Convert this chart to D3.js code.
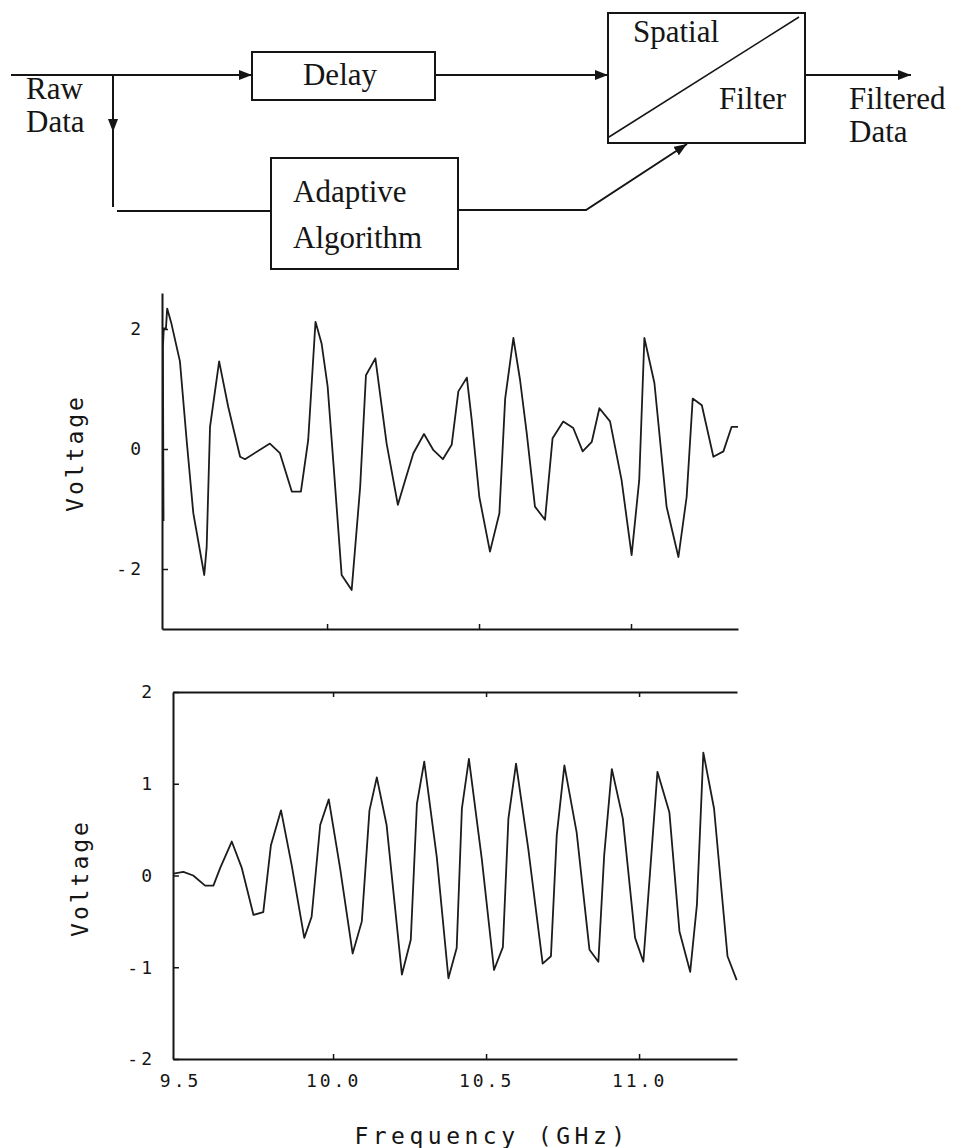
<!DOCTYPE html>
<html>
<head>
<meta charset="utf-8">
<script src="https://cdn.jsdelivr.net/npm/d3@7"></script>
<style>
body { margin: 0; background: #fff; }
</style>
</head>
<body>
<div id="chart"></div>
<script>
// upper trace: raw voltage vs frequency (GHz)
var rawFreq = [9.462, 9.460, 9.463, 9.470, 9.474, 9.488, 9.516, 9.538, 9.560, 9.596,
    9.604, 9.615, 9.645, 9.675, 9.714, 9.730, 9.812, 9.845, 9.884, 9.914,
    9.938, 9.962, 9.982, 10.002, 10.021, 10.048, 10.081, 10.109, 10.128, 10.159,
    10.196, 10.233, 10.257, 10.284, 10.319, 10.350, 10.381, 10.410, 10.432, 10.460,
    10.476, 10.501, 10.536, 10.567, 10.586, 10.613, 10.635, 10.657, 10.684, 10.717,
    10.742, 10.777, 10.810, 10.841, 10.871, 10.896, 10.931, 10.969, 11.002, 11.027,
    11.044, 11.077, 11.117, 11.156, 11.183, 11.203, 11.233, 11.271, 11.304, 11.331, 11.352];
var rawVolt = [-1.2, 1.70, 2.01, 2.01, 2.34, 2.09, 1.46, 0.15, -1.07, -2.10,
    -1.63, 0.37, 1.46, 0.70, -0.13, -0.17, 0.09, -0.07, -0.71, -0.71,
    0.15, 2.12, 1.76, 1.04, -0.24, -2.10, -2.35, -0.63, 1.23, 1.51,
    0.09, -0.93, -0.52, -0.07, 0.25, -0.02, -0.17, 0.07, 0.96, 1.19,
    0.48, -0.80, -1.71, -1.07, 0.84, 1.85, 1.15, 0.26, -0.96, -1.18,
    0.18, 0.46, 0.35, -0.04, 0.12, 0.68, 0.46, -0.52, -1.77, -0.52,
    1.85, 1.10, -0.96, -1.80, -0.80, 0.84, 0.73, -0.13, -0.04, 0.37, 0.37];

// lower trace: filtered voltage
var filtFreq = [9.478, 9.511, 9.543, 9.582, 9.609, 9.631, 9.669, 9.702, 9.740, 9.772,
    9.797, 9.830, 9.865, 9.906, 9.930, 9.958, 9.986, 10.023, 10.064, 10.094,
    10.119, 10.143, 10.175, 10.225, 10.254, 10.274, 10.298, 10.339, 10.377, 10.404,
    10.421, 10.444, 10.486, 10.526, 10.555, 10.573, 10.598, 10.638, 10.685, 10.712,
    10.731, 10.756, 10.796, 10.838, 10.867, 10.886, 10.911, 10.947, 10.987, 11.014,
    11.036, 11.060, 11.099, 11.132, 11.167, 11.189, 11.210, 11.245, 11.289, 11.319];
var filtVolt = [0.02, 0.04, 0.00, -0.11, -0.11, 0.08, 0.37, 0.08, -0.43, -0.40,
    0.33, 0.71, 0.11, -0.68, -0.45, 0.55, 0.83, 0.08, -0.85, -0.50,
    0.71, 1.07, 0.55, -1.08, -0.70, 0.78, 1.24, 0.20, -1.12, -0.79,
    0.73, 1.27, 0.18, -1.03, -0.78, 0.62, 1.22, 0.29, -0.96, -0.88,
    0.44, 1.20, 0.47, -0.81, -0.94, 0.22, 1.16, 0.62, -0.68, -0.94,
    0.04, 1.13, 0.69, -0.61, -1.05, -0.32, 1.34, 0.73, -0.88, -1.14];

var topYTicks = [-2, 0, 2];
var botYTicks = [-2, -1, 0, 1, 2];
var innerXTicks = [10.0, 10.5, 11.0];
var xTicks = [9.5, 10.0, 10.5, 11.0];
var xTickLabels = ["9.5", "10.0", "10.5", "11.0"];

var ink = "#151515";
var serif = "'Liberation Serif', 'Times New Roman', serif";
var mono = "'DejaVu Sans Mono', 'Liberation Mono', monospace";

var svg = d3.select("#chart")
    .append("svg")
    .attr("width", 954)
    .attr("height", 1148)
    .style("background", "#fff");

svg.append("defs")
    .append("marker")
    .attr("id", "arr")
    .attr("viewBox", "0 0 13 10")
    .attr("refX", 13)
    .attr("refY", 5)
    .attr("markerWidth", 13)
    .attr("markerHeight", 10)
    .attr("markerUnits", "userSpaceOnUse")
    .attr("orient", "auto")
    .append("path")
    .attr("d", "M0,0L13,5L0,10z")
    .attr("fill", ink);

// ---- block diagram ----
var dg = svg.append("g")
    .attr("stroke", ink)
    .attr("stroke-width", 2)
    .attr("fill", "none");

function seg(pts, arrow) {
    var p = dg.append("path").attr("d", d3.line()(pts));
    if (arrow) p.attr("marker-end", "url(#arr)");
}

seg([[11, 75], [252, 75]], true);
seg([[113, 75], [113, 132]], true);
seg([[113, 130], [113, 207]], false);
seg([[117, 211], [271, 211]], false);
seg([[435, 75], [608, 75]], true);
seg([[805, 75], [911, 75]], true);
seg([[458, 210], [586, 210], [687, 144]], true);

dg.append("rect").attr("x", 252).attr("y", 52).attr("width", 183).attr("height", 48);
dg.append("rect").attr("x", 271).attr("y", 158).attr("width", 187).attr("height", 111);
dg.append("rect").attr("x", 608).attr("y", 13).attr("width", 197).attr("height", 130);
dg.append("line").attr("x1", 609).attr("y1", 137).attr("x2", 799).attr("y2", 17)
    .attr("stroke-width", 1.5);

var labels = [
    ["Raw", 26, 99, "start"], ["Data", 26, 132, "start"],
    ["Delay", 340, 85, "middle"],
    ["Adaptive", 293, 202, "start"], ["Algorithm", 293, 248, "start"],
    ["Spatial", 633, 42, "start"], ["Filter", 719, 109, "start"],
    ["Filtered", 849, 109, "start"], ["Data", 849, 142, "start"]
];
svg.append("g").selectAll("text")
    .data(labels)
    .enter()
    .append("text")
    .attr("x", function(d) { return d[1]; })
    .attr("y", function(d) { return d[2]; })
    .attr("text-anchor", function(d) { return d[3]; })
    .attr("font-family", serif)
    .attr("font-size", 31)
    .attr("fill", ink)
    .text(function(d) { return d[0]; });

// ---- plots ----
function fmtV(d) {
    return d < 0 ? "-" + Math.abs(d) : String(d);
}

function styleAxis(g) {
    g.select(".domain").attr("stroke", ink).attr("stroke-width", 2);
    g.selectAll(".tick line").attr("stroke", ink).attr("stroke-width", 1.5);
    g.selectAll(".tick text")
        .attr("fill", ink)
        .attr("font-family", mono)
        .attr("font-size", 18)
        .attr("letter-spacing", 3);
}

function trace(xs, ys, fr, vo) {
    var pts = d3.zip(fr, vo);
    svg.append("path")
        .datum(pts)
        .attr("fill", "none")
        .attr("stroke", "#1c1c1c")
        .attr("stroke-width", 1.8)
        .attr("stroke-linejoin", "round")
        .attr("d", d3.line()
            .x(function(d) { return xs(d[0]); })
            .y(function(d) { return ys(d[1]); }));
}

// upper plot
var xTop = d3.scaleLinear().domain([9.457, 11.352]).range([162, 738]);
var yTop = d3.scaleLinear().domain([-3, 2.6]).range([629, 293]);

svg.append("g")
    .attr("transform", "translate(162,0)")
    .call(d3.axisLeft(yTop).tickValues(topYTicks).tickSizeInner(-6)
        .tickSizeOuter(0).tickPadding(18).tickFormat(fmtV))
    .call(styleAxis);

svg.append("g")
    .attr("transform", "translate(0,629)")
    .call(d3.axisBottom(xTop).tickValues(innerXTicks).tickSizeInner(-5)
        .tickSizeOuter(0).tickFormat(""))
    .call(styleAxis);

trace(xTop, yTop, rawFreq, rawVolt);

// lower plot
var xBot = d3.scaleLinear().domain([9.477, 11.320]).range([173, 737]);
var yBot = d3.scaleLinear().domain([-2, 2]).range([1059, 692]);

svg.append("g")
    .attr("transform", "translate(173,0)")
    .call(d3.axisLeft(yBot).tickValues(botYTicks).tickSizeInner(-6)
        .tickSizeOuter(0).tickPadding(18).tickFormat(fmtV))
    .call(styleAxis);

svg.append("g")
    .attr("transform", "translate(0,692)")
    .call(d3.axisTop(xBot).tickValues(innerXTicks).tickSizeInner(-5)
        .tickSizeOuter(0).tickFormat(""))
    .call(styleAxis);

var bx = svg.append("g")
    .attr("transform", "translate(0,1059)")
    .call(d3.axisBottom(xBot).tickValues(xTicks).tickSizeInner(-5)
        .tickSizeOuter(0).tickPadding(15)
        .tickFormat(function(d, i) { return xTickLabels[i]; }))
    .call(styleAxis);
bx.selectAll(".tick line").filter(function(d) { return d === 9.5; }).remove();

trace(xBot, yBot, filtFreq, filtVolt);

// axis titles
function title(txt, x, y, rot, spacing) {
    svg.append("text")
        .attr("transform", "translate(" + x + "," + y + ")" + (rot ? " rotate(-90)" : ""))
        .attr("text-anchor", "middle")
        .attr("dominant-baseline", "central")
        .attr("font-family", mono)
        .attr("font-size", 23)
        .attr("letter-spacing", spacing)
        .attr("fill", ink)
        .text(txt);
}
title("Voltage", 75, 453, true, 3);
title("Voltage", 80, 878, true, 3);
title("Frequency (GHz)", 492, 1136, false, 4.5);
</script>
</body>
</html>
